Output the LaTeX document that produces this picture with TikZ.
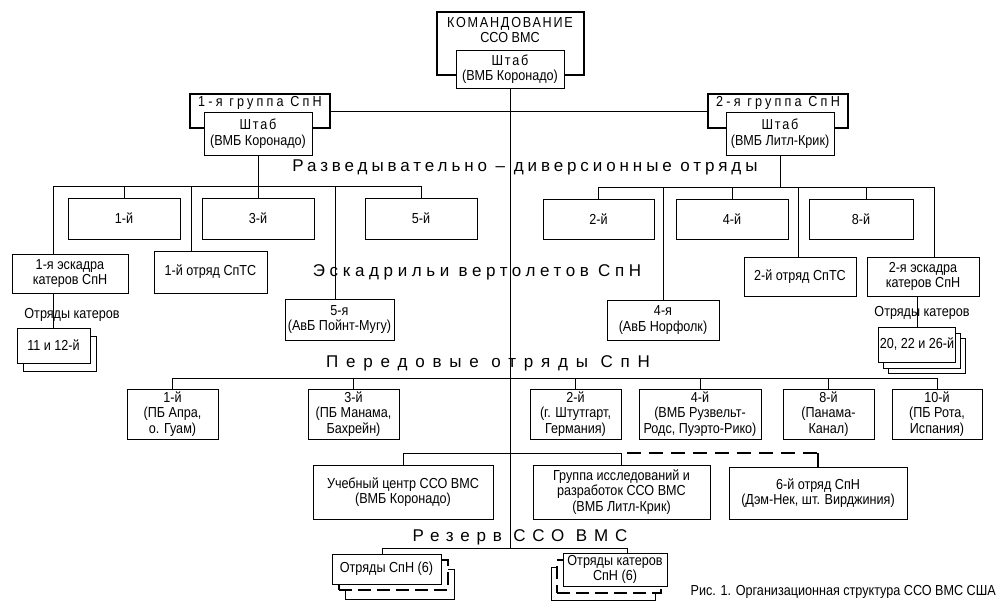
\documentclass[tikz,border=0pt]{standalone}
\usepackage{fontspec}
\setmainfont{Liberation Sans}
\newfontfamily\narrowfont[FakeStretch=0.87]{Liberation Sans}
\usetikzlibrary{shadows}
\newcommand{\unitfont}{\narrowfont\fontsize{14.5}{15.5}\selectfont}
\newcommand{\headfont}{\fontsize{17}{19}\selectfont}
\newcommand{\tracked}[1]{\addfontfeature{LetterSpace=#1}}

\begin{document}
\begin{tikzpicture}[x=1pt,y=-1pt,
  orgbox/.style={draw,line width=0.7pt,fill=white,align=center,inner sep=1pt,font=\unitfont},
  unitbox/.style 2 args={orgbox,minimum width=#1,minimum height=#2},
  grpframe/.style={draw,line width=2.2pt},
  link/.style={line width=0.7pt},
  dashlink/.style={line width=1.3pt,dash pattern=on 14pt off 8pt},
  secthead/.style={font=\headfont,inner sep=0pt},
  notelabel/.style={font=\unitfont,inner sep=0pt,align=center}]
\useasboundingbox (0,0) rectangle (1000,610);

%COMMAND
\node[grpframe,minimum width=147pt,minimum height=63pt] (cmd) at (510.5,43.5) {};
\node[notelabel] (cmdname) at (510,30) {{\tracked{12}КОМАНДОВАНИЕ}\\ССО ВМС};
\node[unitbox={108pt}{38pt}] (cmdhq) at (510,69) {{\tracked{12}Штаб}\\(ВМБ Коронадо)};
%GROUPS
\node[grpframe,minimum width=140pt,minimum height=34pt] (g1) at (260,111) {};
\node[notelabel] (g1name) at (260,103) {\tracked{22}1-я группа СпН};
\node[unitbox={108pt}{43pt}] (g1hq) at (258,133.5) {{\tracked{12}Штаб}\\(ВМБ Коронадо)};
\node[grpframe,minimum width=140pt,minimum height=34pt] (g2) at (778,111) {};
\node[notelabel] (g2name) at (778,103) {\tracked{22}2-я группа СпН};
\node[unitbox={108pt}{43pt}] (g2hq) at (780,133.5) {{\tracked{12}Штаб}\\(ВМБ Литл-Крик)};

%HEADINGS
\node[secthead] (rdohead) at (525,167) {\tracked{23}Разведывательно – диверсионные отряды};
\node[secthead] (helohead) at (477,272) {\tracked{27}Эскадрильи вертолетов СпН};
\node[secthead] (fwdhead) at (488,363) {\tracked{46}Передовые отряды СпН};
\node[secthead] (rsvhead) at (520,537) {\tracked{40}Резерв ССО ВМС};

%SEAL TEAMS
\node[unitbox={112pt}{41pt}] (rdo1) at (124,218.5) {1-й};
\node[unitbox={112pt}{41pt}] (rdo3) at (258,218.5) {3-й};
\node[unitbox={112pt}{41pt}] (rdo5) at (421,218.5) {5-й};
\node[unitbox={111pt}{40pt}] (rdo2) at (598.5,219) {2-й};
\node[unitbox={112pt}{40pt}] (rdo4) at (732,219) {4-й};
\node[unitbox={104pt}{40pt}] (rdo8) at (861,219) {8-й};
\node[unitbox={116pt}{39pt}] (esk1) at (70,273.5) {1-я эскадра\\катеров СпН};
\node[unitbox={113pt}{42pt}] (sptc1) at (210.5,272) {1-й отряд СпТС};
\node[unitbox={109pt}{41pt}] (avb5) at (339.5,319.5) {5-я\\(АвБ Пойнт-Мугу)};
\node[unitbox={112pt}{39pt}] (sptc2) at (800,276.5) {2-й отряд СпТС};
\node[unitbox={112pt}{39pt}] (esk2) at (923,276.5) {2-я эскадра\\катеров СпН};
\node[unitbox={112pt}{40pt}] (avb4) at (663,320) {4-я\\(АвБ Норфолк)};
\node[notelabel] (boatlbl1) at (72,315) {Отряды катеров};
\node[unitbox={73pt}{35pt},
  copy shadow={shadow xshift=6pt,shadow yshift=-8pt,draw,fill=white,line width=0.7pt}]
  (boat1) at (53.5,345.5) {11 и 12-й};
\node[notelabel] (boatlbl2) at (922,313) {Отряды катеров};
\node[unitbox={76pt}{35pt},
  copy shadow={shadow xshift=10pt,shadow yshift=-11pt,draw,fill=white,line width=0.7pt},
  copy shadow={shadow xshift=5pt,shadow yshift=-6pt,draw,fill=white,line width=0.7pt}]
  (boat2) at (917,344.5) {20, 22 и 26-й};

%FORWARD UNITS
\node[unitbox={91pt}{50pt}] (fwd1) at (172.5,414) {1-й\\(ПБ Апра,\\о. Гуам)};
\node[unitbox={91pt}{50pt}] (fwd3) at (353.5,414) {3-й\\(ПБ Манама,\\Бахрейн)};
\node[unitbox={91pt}{50pt}] (fwd2) at (575.5,414) {2-й\\(г. Штутгарт,\\Германия)};
\node[unitbox={122pt}{50pt}] (fwd4) at (700,414) {4-й\\(ВМБ Рузвельт-\\Родс, Пуэрто-Рико)};
\node[unitbox={91pt}{50pt}] (fwd8) at (828.5,414) {8-й\\(Панама-\\Канал)};
\node[unitbox={90pt}{50pt}] (fwd10) at (937,414) {10-й\\(ПБ Рота,\\Испания)};

%SUPPORT
\node[unitbox={180pt}{54pt}] (school) at (403,492) {Учебный центр ССО ВМС\\(ВМБ Коронадо)};
\node[unitbox={177pt}{54pt}] (rnd) at (621.5,492) {Группа исследований и\\разработок ССО ВМС\\(ВМБ Литл-Крик)};
\node[unitbox={178pt}{52pt}] (sixth) at (818,493) {6-й отряд СпН\\(Дэм-Нек, шт. Вирджиния)};

%RESERVE
\node[unitbox={109pt}{30pt},
  copy shadow={shadow xshift=13pt,shadow yshift=-15pt,draw,fill=white,line width=0.7pt},
  copy shadow={shadow xshift=7pt,shadow yshift=-6pt,draw,fill=white,line width=1.4pt,dash pattern=on 13pt off 6pt}]
  (rsv1) at (386.5,569) {Отряды СпН (6)};
\node[unitbox={104pt}{33pt},
  copy shadow={shadow xshift=-12pt,shadow yshift=-14pt,draw,fill=white,line width=0.7pt},
  copy shadow={shadow xshift=-6pt,shadow yshift=-7pt,draw,fill=white,line width=1.4pt,dash pattern=on 13pt off 6pt}]
  (rsv2) at (615,569.5) {Отряды катеров\\СпН (6)};

\node[notelabel,anchor=east] (caption) at (996,592) {Рис. 1. Организационная структура ССО ВМС США};

%CONNECTORS
\coordinate (trunk) at (510,548);
\coordinate (busL) at (0,186);
\coordinate (busR) at (0,187);
\coordinate (busF) at (0,378);
\coordinate (busS) at (0,453);
\coordinate (sptc1in) at ([xshift=-19.5pt]sptc1.north);
\coordinate (avb5in) at ([xshift=-4.5pt]avb5.north);
\coordinate (rdo8in) at ([xshift=5pt]rdo8.north);
\coordinate (sptc2in) at ([xshift=-2pt]sptc2.north);
\coordinate (esk2in) at ([xshift=11pt]esk2.north);
\coordinate (rsv1in) at ([xshift=-4.5pt]rsv1.north);
\coordinate (rsv2in) at ([xshift=12pt]rsv2.north);

\draw[link] (cmdhq.south) -- (trunk);
\draw[link] (g1.east) -- (g2.west);
\draw[link] (g1hq.south) -- (rdo3.north);
\draw[link] (g2hq.south) -- (g2hq.south |- busR);

\draw[link] (boat1.north |- busL) -- (rdo5.north |- busL);
\foreach \p in {rdo1.north,rdo5.north,sptc1in,avb5in}
  \draw[link] (\p |- busL) -- (\p);
\draw[link] (boat1.north |- busL) -- (boat1.north |- esk1.north);
\draw[link] (boat1.north |- esk1.south) -- (boat1.north);

\draw[link] (rdo2.north |- busR) -- (esk2in |- busR);
\foreach \p in {rdo2.north,rdo4.north,rdo8in,avb4.north,sptc2in,esk2in}
  \draw[link] (\p |- busR) -- (\p);
\draw[link] (boat2.north |- esk2.south) -- (boat2.north);

\draw[link] (fwd1.north |- busF) -- (fwd10.north |- busF);
\foreach \n in {fwd1,fwd3,fwd2,fwd4,fwd8,fwd10}
  \draw[link] (\n.north |- busF) -- (\n.north);

\draw[link] (school.north |- busS) -- (rnd.north |- busS);
\foreach \n in {school,rnd}
  \draw[link] (\n.north |- busS) -- (\n.north);
\draw[dashlink] (rnd.north |- busS) ++(5,0) -- (sixth.north |- busS);
\draw[line width=1.3pt] (sixth.north |- busS) -- (sixth.north);

\draw[link] (rsv1in |- trunk) -- (rsv2in |- trunk);
\foreach \p in {rsv1in,rsv2in}
  \draw[link] (\p |- trunk) -- (\p);
\end{tikzpicture}
\end{document}
